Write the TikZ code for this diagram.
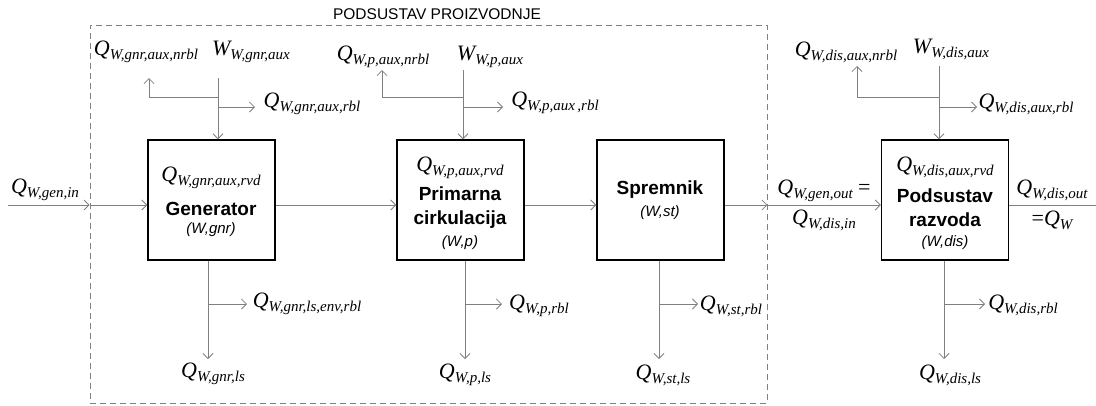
\documentclass[tikz,border=0pt]{standalone}
\usepackage{fontspec}
\setmainfont{Liberation Serif}
\newfontfamily\arial{Liberation Sans}
\usetikzlibrary{arrows.meta}
\newcommand{\vel}[2]{{\fontsize{22}{24}\selectfont\itshape #1}\raisebox{-4pt}{\fontsize{15}{16}\selectfont\itshape #2}}

\begin{document}
\begin{tikzpicture}[x=1pt,y=-1pt,
  blok/.style={draw,line width=1.4pt,minimum width=127pt,minimum height=120pt,inner sep=0pt},
  tok/.style={draw=gray,line width=.8pt,-{Straight Barb[length=5pt,width=10pt]}},
  crta/.style={draw=gray,line width=.8pt},
  ime/.style={font=\arial\bfseries\fontsize{19}{24}\selectfont,inner sep=0pt},
  oznaka/.style={font=\arial\itshape\fontsize{15}{17}\selectfont,inner sep=0pt},
  lbl/.style={inner sep=0pt}]
\useasboundingbox (0,0) rectangle (1096,405);
\node[draw=gray,line width=.8pt,dash pattern=on 6pt off 4pt,minimum width=677pt,minimum height=378pt,inner sep=0pt] (proizv) at (428.5,214) {};
\node[font=\arial\fontsize{15.5}{17}\selectfont,inner sep=0pt] (naslov) at (437,14) {PODSUSTAV PROIZVODNJE};

\node[blok] (gnr) at (211.5,200) {};
\node[blok] (p) at (460.5,200) {};
\node[blok] (st) at (660.5,200) {};
\node[blok] (dis) at (945,200) {};

\node[lbl] (gnrQ) at (211,178) {\vel{Q}{W,gnr,aux,rvd}};
\node[ime] (gnrI) at (211,209) {Generator};
\node[oznaka] (gnrO) at (211,230) {(W,gnr)};
\node[lbl] (pQ) at (460,168) {\vel{Q}{W,p,aux,rvd}};
\node[ime,align=center] (pI) at (460,208) {Primarna\\cirkulacija};
\node[oznaka] (pO) at (460,243) {(W,p)};
\node[ime] (stI) at (660,190) {Spremnik};
\node[oznaka] (stO) at (660,213) {(W,st)};
\node[lbl] (disQ) at (945,167) {\vel{Q}{W,dis,aux,rvd}};
\node[ime,align=center] (disI) at (945,208) {Podsustav\\razvoda};
\node[oznaka] (disO) at (945,243) {(W,dis)};

\coordinate (ulaz) at (8,205);
\coordinate (izlaz) at (1096,205);
\draw[tok] (ulaz) -- (proizv.west |- ulaz);
\draw[tok] (proizv.west |- ulaz) -- (gnr.west |- ulaz);
\draw[tok] (gnr.east |- ulaz) -- (p.west |- ulaz);
\draw[tok] (p.east |- ulaz) -- (st.west |- ulaz);
\draw[tok] (st.east |- ulaz) -- (proizv.east |- ulaz);
\draw[tok] (proizv.east |- ulaz) -- (dis.west |- ulaz);
\draw[crta] (dis.east |- ulaz) -- (izlaz);

\foreach \b/\x/\t/\n/\r in {gnr/218/78/149/255, p/463/70/382/503, dis/939/66/857/977}{
  \coordinate (\b-aux) at (\x,\t);
  \coordinate (\b-a1) at (\x,97);
  \coordinate (\b-a2) at (\x,107);
  \coordinate (\b-nrbl) at (\n,\t);
  \coordinate (\b-rbl) at (\r,107);
  \draw[tok] (\b-aux) -- (\b-aux |- \b.north);
  \draw[tok] (\b-a1) -| (\b-nrbl);
  \draw[tok] (\b-a2) -- (\b-rbl);
}
\foreach \b/\x/\r in {gnr/208/247, p/465/502, st/659/698, dis/944/985}{
  \coordinate (\b-ls) at (\x,359);
  \coordinate (\b-l1) at (\x,304);
  \coordinate (\b-l2) at (\r,304);
  \draw[tok] (\b.south -| \b-ls) -- (\b-ls);
  \draw[tok] (\b-l1) -- (\b-l2);
}

\node[lbl] (qin) at (45,190) {\vel{Q}{W,gen,in}};
\node[lbl] (qgn1) at (146,52) {\vel{Q}{W,gnr,aux,nrbl}};
\node[lbl] (wgn) at (251,52) {\vel{W}{W,gnr,aux}};
\node[lbl] (qgn2) at (312,104) {\vel{Q}{W,gnr,aux,rbl}};
\node[lbl] (qp1) at (383,57) {\vel{Q}{W,p,aux,nrbl}};
\node[lbl] (wp) at (490,57) {\vel{W}{W,p,aux}};
\node[lbl] (qp2) at (555,103) {\vel{Q}{W,p,aux\,,rbl}};
\node[lbl] (qd1) at (846,52) {\vel{Q}{W,dis,aux,nrbl}};
\node[lbl] (wd) at (951,49) {\vel{W}{W,dis,aux}};
\node[lbl] (qd2) at (1026,104) {\vel{Q}{W,dis,aux,rbl}};
\node[lbl] (qout) at (824,191) {\vel{Q}{W,gen,out}{\fontsize{22}{24}\selectfont{} =}};
\node[lbl] (qdin) at (824,220) {\vel{Q}{W,dis,in}};
\node[lbl] (qdout) at (1052,190) {\vel{Q}{W,dis,out}};
\node[lbl] (qw) at (1052,220) {{\fontsize{22}{24}\selectfont=}\vel{Q}{W}};
\node[lbl] (qgl1) at (307,304) {\vel{Q}{W,gnr,ls,env,rbl}};
\node[lbl] (qgl2) at (213,374) {\vel{Q}{W,gnr,ls}};
\node[lbl] (qpl1) at (539,306) {\vel{Q}{W,p,rbl}};
\node[lbl] (qpl2) at (465,375) {\vel{Q}{W,p,ls}};
\node[lbl] (qsl1) at (731,306) {\vel{Q}{W,st,rbl}};
\node[lbl] (qsl2) at (663,375) {\vel{Q}{W,st,ls}};
\node[lbl] (qdl1) at (1023,305) {\vel{Q}{W,dis,rbl}};
\node[lbl] (qdl2) at (950,375) {\vel{Q}{W,dis,ls}};
\end{tikzpicture}
\end{document}
